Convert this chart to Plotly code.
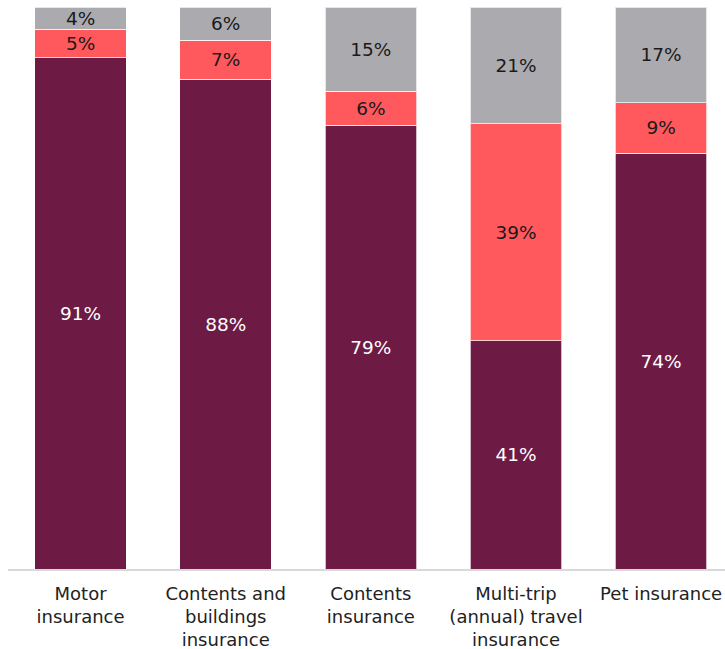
import plotly.graph_objects as go

categories = [
    "Motor<br>insurance",
    "Contents and<br>buildings<br>insurance",
    "Contents<br>insurance",
    "Multi-trip<br>(annual) travel<br>insurance",
    "Pet insurance",
]
series_names = ["Bottom", "Middle", "Top"]
bottom_vals = [91, 88, 79, 41, 74]
middle_vals = [5, 7, 6, 39, 9]
top_vals = [4, 6, 15, 21, 17]

colors = ["#6D1B45", "#FF585D", "#ABAAAF"]
text_colors = ["white", "#1a1a1a", "#1a1a1a"]

fig = go.Figure()
for name, vals, col, tcol in zip(series_names, [bottom_vals, middle_vals, top_vals], colors, text_colors):
    fig.add_trace(go.Bar(
        x=list(range(len(categories))),
        y=vals,
        name=name,
        marker=dict(color=col, line=dict(color="rgba(255,255,255,0.7)", width=1)),
        text=[f"{v}%" for v in vals],
        textposition="inside",
        insidetextanchor="middle",
        textangle=0,
        constraintext="none",
        textfont=dict(family="DejaVu Sans", size=18.5, color=tcol),
        width=0.63,
        hoverinfo="skip",
    ))

fig.update_layout(
    barmode="stack",
    barnorm="percent",
    width=725,
    height=649,
    margin=dict(l=8, r=0, t=7, b=80),
    paper_bgcolor="white",
    plot_bgcolor="white",
    showlegend=False,
    font=dict(family="DejaVu Sans", size=18, color="#222222"),
    uniformtext=dict(mode=False),
)
fig.update_xaxes(
    tickmode="array",
    tickvals=list(range(len(categories))),
    ticktext=categories,
    range=[-0.5, 4.44],
    showline=True,
    linecolor="#d9d9d9",
    linewidth=2,
    showgrid=False,
    ticks="",
    ticklabelstandoff=7,
    automargin=False,
    tickfont=dict(family="DejaVu Sans", size=18, color="#222222"),
)
fig.update_yaxes(range=[0, 100], visible=False, showgrid=False, automargin=False)

fig.write_html("out.html")
